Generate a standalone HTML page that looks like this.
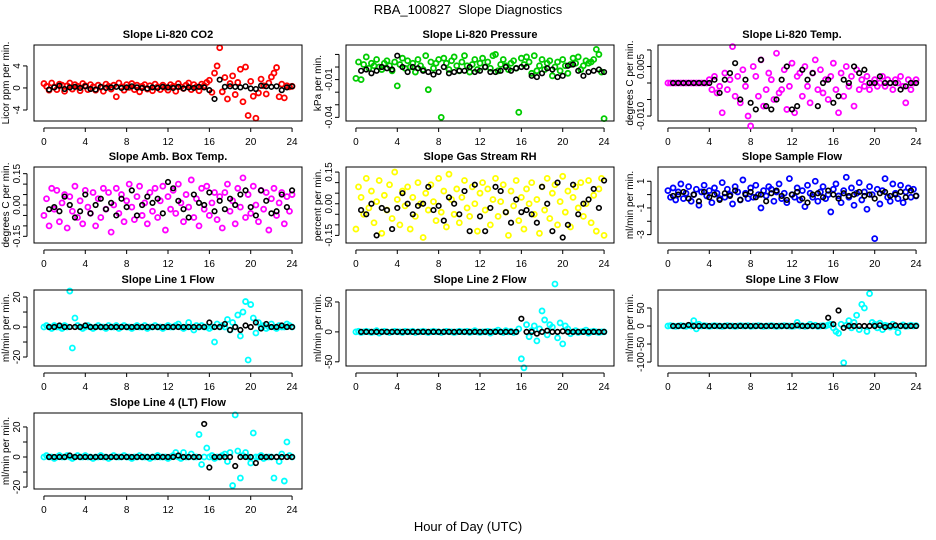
<!DOCTYPE html>
<html><head><meta charset="utf-8"><style>
html,body{margin:0;padding:0;background:#fff}
svg{display:block;font-family:"Liberation Sans",sans-serif}
</style></head><body>
<svg id="c" width="936" height="540" viewBox="0 0 936 540">
<text x="468" y="14" text-anchor="middle" font-size="13">RBA_100827&#160; Slope Diagnostics</text>
<text x="468" y="531" text-anchor="middle" font-size="13">Hour of Day (UTC)</text>
</svg>
<script>
const titles=["Slope Li-820 CO2","Slope Li-820 Pressure","Slope Li-820 Temp.","Slope Amb. Box Temp.","Slope Gas Stream RH","Slope Sample Flow","Slope Line 1 Flow","Slope Line 2 Flow","Slope Line 3 Flow","Slope Line 4 (LT) Flow"];
const yTitles=["Licor ppm per min.","kPa per min.","degrees C per min.","degrees C per min.","percent per min.","ml/min per min.","ml/min per min.","ml/min per min.","ml/min per min.","ml/min per min."];
const colors=["#ff0000","#00cc00","#ff00ff","#ff00ff","#ffff00","#0000ff","#00ffff","#00ffff","#00ffff","#00ffff"];
const xTicks=[0,4,8,12,16,20,24];
const yDomains=[[7.8,-6],[17.5,-42.9],[11.5,-11.5],[18.2,-18.2],[17.4,-18.6],[20.7,-36.3],[24.7,-26],[70,-57],[100,-111],[29.3,-21.3]];
const yTickVals=[[-4,0,4],[-40,-30,-20,-10,0,10],[-10,-5,0,5,10],[-15,-10,-5,0,5,10,15],[-15,-10,-5,0,5,10,15],[-30,-20,-10,0,10],[-20,-10,0,10,20],[-50,0,50],[-100,-50,0,50],[-20,-10,0,10,20]];
const yTickLabels=[["-4","0","4"],["-0.04","","","-0.01","",""],["-0.010","","","0.005",""],["-0.15","","","0.00","","","0.15"],["-0.15","","","0.00","","","0.15"],["-3","","-1","","1"],["-20","","0","","20"],["-50","0","50"],["-100","-50","0","50"],["-20","","0","","20"]];
const c1=[0.8,0.3,-0.4,0.9,0.2,-0.3,0.7,0.5,-0.6,0.4,0.9,-0.2,0.6,0.3,-0.5,0.8,0.4,-0.3,0.6,0.2,-0.4,0.5,0.1,-0.6,0.7,0.3,-0.2,0.5,-1.6,0.9,0.2,-0.4,0.6,0.1,0.8,-0.3,0.5,-0.7,0.3,0.6,-0.2,0.4,-0.5,0.7,0.2,-0.3,0.5,0.1,-0.4,0.6,0.3,-0.6,0.8,0.2,-0.1,0.5,0.9,-0.3,0.6,0.2,-0.5,0.7,0.4,1.0,1.4,-0.8,2.7,4.0,7.3,-0.7,1.9,-2.0,0.8,2.2,-1.2,1.0,3.4,-2.5,3.8,-5.0,1.2,-1.5,-5.5,-0.9,1.6,0.4,-1.1,0.9,2.0,2.7,3.7,-1.6,0.7,-1.8,0.4,0.2,0.3];
const b1=[-0.3,0.1,0.4,-0.2,0.1,0.2,0.0,0.3,-0.2,-0.3,0.2,0.0,0.1,0.2,0.0,0.1,0.3,0.1,0.0,-0.1,0.1,0.0,0.2,0.1,0.0,0.2,-0.1,0.1,0.0,0.2,0.1,-0.4,-2.0,1.5,0.2,0.3,0.2,0.1,0.3,-0.1,-0.2,0.4,0.3,0.2,0.3,-0.4,0.1,0.3];
const c2=[-9,4,-10,2,8,-1,3,1,6,0,-2,3,5,1,-3,4,-15,2,7,-1,5,0,3,-4,6,1,-2,9,-18,4,-1,3,6,-40,7,3,-2,5,8,1,-3,4,9,1,-4,2,6,-2,3,7,0,4,-1,9,10,-3,2,6,1,-2,3,5,-1,-36,7,2,8,4,-5,9,-3,1,6,-2,3,5,-7,0,4,-3,6,1,-5,2,7,3,8,-2,1,5,3,4,6,14,10,-4,-41];
const b2=[-3,-2,-5,-3,0,-1,-2,9,0,-4,0,-1,-3,-4,-6,-4,0,-5,-4,-3,-3,0,-4,-3,0,-4,-4,-3,0,-3,-1,0,0,-7,-8,-5,-1,-2,-8,-7,1,2,-3,-7,-4,-3,-2,-4];
const c3=[0,0,0,0,0,0,0,0,0,0,0,0,0,0,0,0,1,-2,2,-3,-1,-9,3,-2,1,11,-4,2,-6,4,-1,-10,-13,5,2,-4,7,-7,-2,3,1,-5,9,-3,-2,4,-8,-1,6,-9,2,3,-4,5,-1,-6,3,7,-2,4,-3,1,-5,2,6,-2,-9,3,-4,5,-1,2,-7,4,-2,1,-1,2,-2,0,1,-1,0,2,-1,1,0,-2,1,0,2,-1,-6,1,-2,0,1];
const b3=[0,0,0,0,0,0,0,0,1,-3,1,3,6,-5,1,-6,-8,7,-7,-8,-5,1,5,-8,-7,4,1,3,-7,0,1,-6,-4,1,0,5,3,4,0,0,2,0,0,0,-2,-1,0,0];
const c4=[-5,3,-10,8,-2,7,-8,1,5,-11,4,-3,9,-6,2,-9,7,-1,-4,6,-10,3,-6,8,-2,6,-13,0,8,-4,5,-8,2,10,-1,-7,4,9,-5,1,-9,6,-3,8,-6,2,9,-12,4,-2,7,-4,10,1,-8,5,-1,12,-6,3,-10,8,-2,9,-5,1,6,-7,4,-11,6,10,-3,2,-9,8,-1,13,-6,5,-4,9,0,-8,7,-2,6,-12,3,8,-5,1,6,-9,4,-3,5];
const b4=[-2,-1,-3,4,0,-6,-3,5,-4,0,3,-2,1,-5,3,-1,7,-5,0,4,1,3,-4,11,8,2,-2,-6,5,1,0,6,-3,2,-2,3,0,5,7,-1,-5,7,2,-4,-3,5,-1,7];
const c5=[-12,8,3,-5,12,-2,6,-9,1,11,-14,4,-3,9,-7,15,2,-10,6,-1,8,-12,3,-6,10,0,-16,5,-3,9,1,-8,12,-4,6,-11,14,2,-5,7,-9,3,11,-2,-6,8,0,-13,5,10,-3,7,-10,2,12,-6,1,9,-4,-15,6,-1,11,-8,3,-12,7,0,10,-5,2,-14,8,-3,12,-7,5,9,-10,1,13,-4,6,-11,3,8,-2,10,-6,0,11,-9,4,-13,7,12,-15];
const b5=[-3,-5,0,-15,-2,-3,-12,-2,5,0,-5,-1,0,8,-3,-1,-8,3,0,-5,6,-13,9,-6,-13,-2,8,6,-4,-9,2,-4,-3,-5,-9,8,0,-13,10,-16,-10,9,-5,0,2,7,-2,11];
const c6=[3,-2,5,-4,2,8,-3,1,6,-5,0,4,-8,2,7,-1,3,-6,5,1,-3,9,-2,4,0,-7,6,2,-4,11,1,-3,5,-2,7,0,-10,3,-1,6,4,-5,2,8,-3,1,-6,12,0,-2,5,-4,3,-9,7,1,-2,10,-5,2,6,-3,0,-13,4,8,-1,-6,3,13,-2,5,-8,1,9,-4,2,-11,6,0,-33,4,-7,3,12,-2,-5,8,1,-3,7,-6,2,5,-2,4,-1];
const b6=[-1,0,2,-3,0,-5,2,-2,0,-4,1,-1,3,-4,0,2,-2,0,-5,1,3,-1,-4,0,2,-3,-6,0,1,-2,3,0,-3,1,-1,0,2,-1,0,-3,1,2,-1,0,2,-2,3,-1];
const c7=[0,1,0,-1,1,0,0,-1,1,0,24,-14,6,1,0,-1,0,1,0,-1,0,1,0,0,-1,1,0,0,1,-1,0,1,0,0,-1,0,1,0,0,1,-1,0,0,1,0,0,-1,0,1,0,0,1,2,0,-1,0,3,0,-2,1,0,1,0,0,-1,0,-10,2,0,1,0,5,-2,3,0,8,-6,10,17,-22,15,6,-4,3,0,1,-1,0,2,0,-1,1,0,0,2,1,0];
const b7=[0,0,1,0,0,0,0,1,0,0,0,0,0,0,0,0,0,0,0,0,0,0,0,0,0,0,0,0,0,0,0,3,0,0,2,-2,0,-2,1,0,3,-1,2,0,0,1,0,0];
const c8=[0,1,-1,0,1,0,-1,0,2,-2,0,1,0,-1,0,1,0,0,-1,1,0,0,1,-1,0,0,1,0,-1,0,1,0,0,-1,0,1,0,0,-1,0,1,0,0,1,-1,0,2,0,-1,0,0,1,-2,0,1,3,0,-1,2,0,1,-1,0,5,-45,-60,12,-8,2,10,-15,5,35,20,-5,12,8,80,-10,15,-20,10,5,-3,0,2,-1,0,1,3,-2,0,1,0,-1,0,0];
const b8=[0,0,0,0,0,0,0,0,0,0,0,0,0,0,0,0,0,0,0,0,0,0,0,0,0,0,0,0,0,0,0,22,0,0,-3,0,2,0,0,1,0,0,0,0,0,0,0,0];
const c9=[0,1,0,-1,0,1,0,-1,1,0,15,-8,5,0,1,0,-1,0,1,0,0,-1,0,1,0,0,-1,0,1,0,0,1,-1,0,0,1,0,-1,0,0,1,0,-1,0,0,1,0,0,-1,0,10,0,1,-1,0,5,0,2,-1,0,1,0,3,5,-5,-15,-20,5,-102,2,15,-5,10,30,-10,60,50,-15,90,10,5,-5,8,-10,2,0,-3,5,-2,-18,0,3,-1,0,2,0,1];
const b9=[0,0,0,3,0,0,0,0,0,0,0,0,0,0,0,0,0,0,0,0,0,0,0,0,2,0,0,0,0,0,23,5,43,-5,0,0,0,0,0,0,2,-3,0,2,0,0,0,0];
const c10=[0,1,0,0,-1,0,1,0,0,1,0,-1,0,1,0,0,1,0,0,-1,0,0,1,0,0,-1,0,1,0,0,0,1,0,0,-1,0,0,1,0,0,0,-1,0,0,1,0,0,0,-1,0,1,3,0,-1,3,0,0,2,0,0,15,-5,0,6,0,1,-1,0,0,1,2,-3,3,-19,28,4,-14,1,3,0,-4,16,0,0,1,-1,0,0,0,-14,0,-3,2,-16,10,1,0];
const b10=[0,0,0,0,1,0,0,0,0,0,0,0,0,0,0,0,0,0,0,0,0,0,0,0,0,1,0,0,0,0,22,-7,0,0,0,0,-6,0,0,0,-4,0,0,0,0,0,0,0];
const colorSeries=[c1,c2,c3,c4,c5,c6,c7,c8,c9,c10];
const blackSeries=[b1,b2,b3,b4,b5,b6,b7,b8,b9,b10];

const NS="http://www.w3.org/2000/svg";
const svg=document.getElementById('c');
const lefts=[34,346,658],tops=[45,167,290,413],W=268,H=76;
function mk(tag,attrs,parent){const e=document.createElementNS(NS,tag);for(const k in attrs)e.setAttribute(k,attrs[k]);(parent||svg).appendChild(e);return e;}
titles.forEach((t,p)=>{
  const L=lefts[p%3],T=tops[Math.floor(p/3)];
  const g=mk('g',{});
  
  
  const xs=h=>L+(h+0.96)/25.92*W;
  const [yt,yb]=yDomains[p];
  const ys=v=>T+(yt-v)/(yt-yb)*H;
  const tt=mk('text',{x:L+W/2,y:T-7,'text-anchor':'middle','font-size':11,'font-weight':'bold'},g);tt.textContent=t;
  
  
  const yl=mk('text',{transform:`translate(${L-25},${T+H/2}) rotate(-90)`,'text-anchor':'middle','font-size':10},g);yl.textContent=yTitles[p];
  
  
  mk('line',{x1:xs(0),x2:xs(24),y1:T+H+7,y2:T+H+7,stroke:'#000'},g);
  xTicks.forEach(v=>{mk('line',{x1:xs(v),x2:xs(v),y1:T+H+7,y2:T+H+11,stroke:'#000'},g);
    const tx=mk('text',{x:xs(v),y:T+H+24,'text-anchor':'middle','font-size':10},g);tx.textContent=v;
    
    });
  const yv=yTickVals[p];
  mk('line',{x1:L-7,x2:L-7,y1:ys(yv[0]),y2:ys(yv[yv.length-1]),stroke:'#000'},g);
  yv.forEach((v,i)=>{mk('line',{x1:L-11,x2:L-7,y1:ys(v),y2:ys(v),stroke:'#000'},g);
    const lab=yTickLabels[p][i];if(lab){const ty=mk('text',{transform:`translate(${L-14},${ys(v)}) rotate(-90)`,'text-anchor':'middle','font-size':10},g);ty.textContent=lab;
    
    }});
  colorSeries[p].forEach((v,i)=>{const c=mk('circle',{cx:xs(i*0.25),cy:ys(v),r:2.5,fill:'none',stroke:colors[p],'stroke-width':1.8},g);
    
    });
  blackSeries[p].forEach((v,i)=>{const c=mk('circle',{cx:xs((i+1)*0.5),cy:ys(v),r:2.3,fill:'none',stroke:'#000','stroke-width':1.6},g);
    
    });
  const box=mk('rect',{x:L,y:T,width:W,height:H,fill:'none',stroke:'#000'},g);
  
  
});
</script>
</body></html>
